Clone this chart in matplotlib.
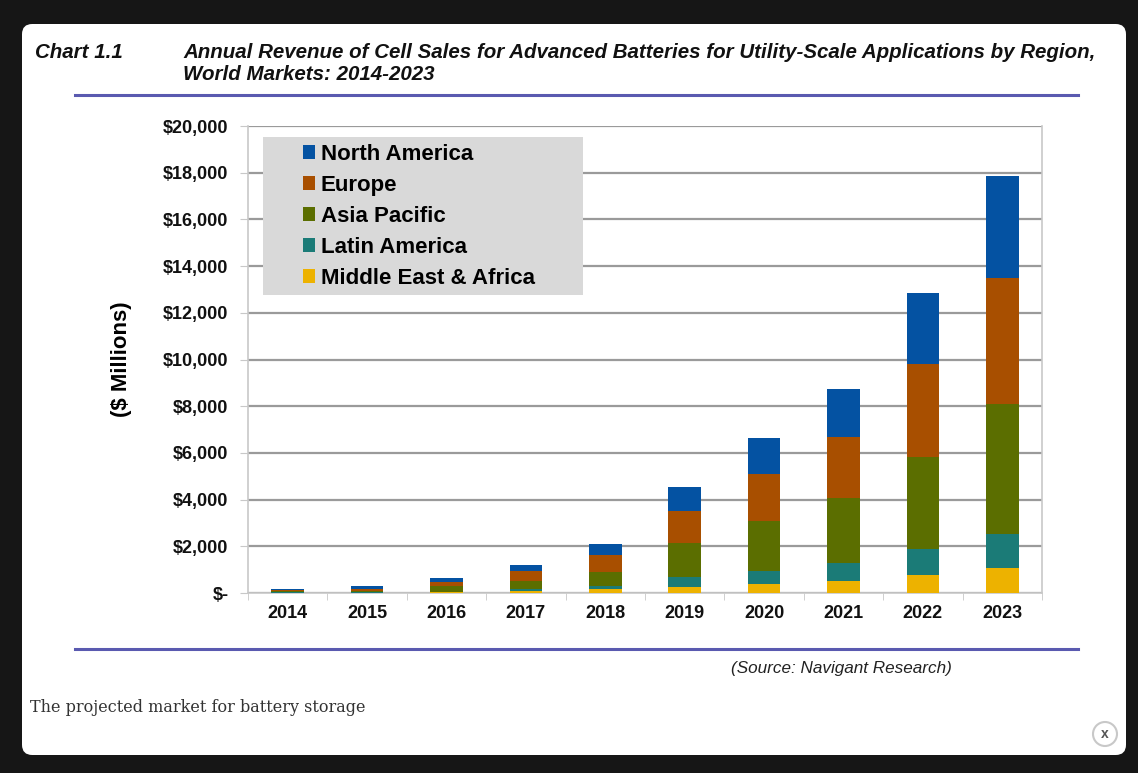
import numpy as np
import matplotlib
matplotlib.use('Agg')
import matplotlib.pyplot as plt
from matplotlib.patches import FancyBboxPatch, Rectangle, Ellipse
from matplotlib.lines import Line2D
from matplotlib.ticker import FuncFormatter

# data ($ millions)
years = ['2014', '2015', '2016', '2017', '2018', '2019', '2020', '2021', '2022', '2023']
mea = [10, 15, 30, 80, 150, 260, 400, 530, 770, 1060]
latin_america = [15, 25, 30, 100, 150, 410, 560, 770, 1100, 1460]
asia_pacific = [45, 60, 220, 330, 580, 1460, 2130, 2780, 3940, 5580]
europe = [45, 80, 200, 450, 740, 1380, 2000, 2610, 3980, 5410]
north_america = [75, 110, 150, 260, 490, 1030, 1540, 2040, 3040, 4330]

regions = ['Middle East & Africa', 'Latin America', 'Asia Pacific', 'Europe', 'North America']
series = [mea, latin_america, asia_pacific, europe, north_america]
colors = ['#EDB200', '#1B7B77', '#5B6E00', '#A84F00', '#0452A2']

W, H = 1138, 773
fig = plt.figure(figsize=(W / 100, H / 100), dpi=100)
fig.patch.set_facecolor('#161616')

# white popup panel
panel = FancyBboxPatch((22 / W, 1 - 755 / H), (1126 - 22) / W, (755 - 24) / H,
                       boxstyle='round,pad=0,rounding_size=0.009', mutation_aspect=W / H,
                       transform=fig.transFigure, facecolor='white', edgecolor='none', zorder=-5)
fig.patches.append(panel)

ax = fig.add_axes([248 / W, 1 - 593 / H, (1042 - 248) / W, (593 - 126) / H])
ax.set_facecolor('white')
ax.set_zorder(2)

x = np.arange(len(years))
bottom = np.zeros(len(years))
bars = []
for vals, c, name in zip(series, colors, regions):
    b = ax.bar(x, vals, 0.41, bottom=bottom, color=c, label=name, zorder=3)
    bars.append(b)
    bottom = bottom + np.array(vals)

ax.set_xlim(-0.5, len(years) - 0.5)
ax.set_ylim(0, 20000)
ax.set_yticks(np.arange(0, 20001, 2000))
ax.yaxis.set_major_formatter(FuncFormatter(lambda v, p: '$-' if v == 0 else '${:,.0f}'.format(v)))
ax.grid(axis='y', color='#9a9a9a', lw=1.6, zorder=0)
ax.set_axisbelow(True)

for s in ['left', 'right', 'bottom']:
    ax.spines[s].set_color('#c8c8c8')
    ax.spines[s].set_linewidth(1.2)
ax.spines['top'].set_visible(False)

ax.set_xticks(x)
ax.set_xticklabels(years)
ax.set_xticks(np.arange(-0.5, len(years), 1), minor=True)
ax.tick_params(axis='x', which='major', length=0, pad=9)
ax.tick_params(axis='x', which='minor', length=5, color='#c8c8c8', direction='out')
ax.tick_params(axis='y', length=6, color='#c8c8c8', pad=8)
for lab in ax.get_xticklabels() + ax.get_yticklabels():
    lab.set_fontfamily('Liberation Sans')
    lab.set_fontweight('bold')
    lab.set_fontsize(13)
    lab.set_color('#111111')

ax.set_ylabel('($ Millions)', fontfamily='Liberation Sans', fontweight='bold', fontsize=16, labelpad=22)

# legend box
ax.add_patch(Rectangle((15 / 794, (593 - 295) / 467), (583 - 263) / 794, (295 - 137) / 467,
                       transform=ax.transAxes, facecolor='#d9d9d9', edgecolor='none', zorder=4))
leg = ax.legend(bars[::-1], regions[::-1], loc='upper left', bbox_to_anchor=(55 / 794, (593 - 144) / 467),
                frameon=False, borderaxespad=0, borderpad=0, handlelength=0.55, handleheight=0.55,
                handletextpad=0.25, labelspacing=0.45,
                prop={'family': 'Liberation Sans', 'weight': 'bold', 'size': 16})
leg.set_zorder(5)

# titles and rules
tfont = dict(family='Liberation Sans', weight='bold', style='italic', color='#111111')
fig.text(35 / W, 1 - 53 / H, 'Chart 1.1', fontsize=14.8, va='center', **tfont)
fig.text(183 / W, 1 - 53 / H, 'Annual Revenue of Cell Sales for Advanced Batteries for Utility-Scale Applications by Region,',
         fontsize=14.8, va='center', **tfont)
fig.text(183 / W, 1 - 75 / H, 'World Markets: 2014-2023', fontsize=14.8, va='center', **tfont)

for yy in [95, 649]:
    fig.add_artist(Line2D([75 / W, 1078 / W], [1 - yy / H, 1 - yy / H], color='#5a5ab0', lw=2.2))

fig.text(952 / W, 1 - 668 / H, '(Source: Navigant Research)', fontsize=12.3, ha='right', va='center',
         family='Liberation Sans', style='italic', color='#222222')
fig.text(30 / W, 1 - 707 / H, 'The projected market for battery storage', fontsize=11.5, va='center',
         family='DejaVu Serif', color='#333333')

# close button
fig.patches.append(Ellipse((1105 / W, 1 - 734 / H), 24 / W, 24 / H, transform=fig.transFigure,
                           facecolor='white', edgecolor='#c8c8c8', lw=1.5))
fig.text(1105 / W, 1 - 734 / H, 'x', fontsize=10, ha='center', va='center', weight='bold',
         family='Liberation Sans', color='#555555')

fig.savefig('out.png', dpi=100, facecolor=fig.get_facecolor())
